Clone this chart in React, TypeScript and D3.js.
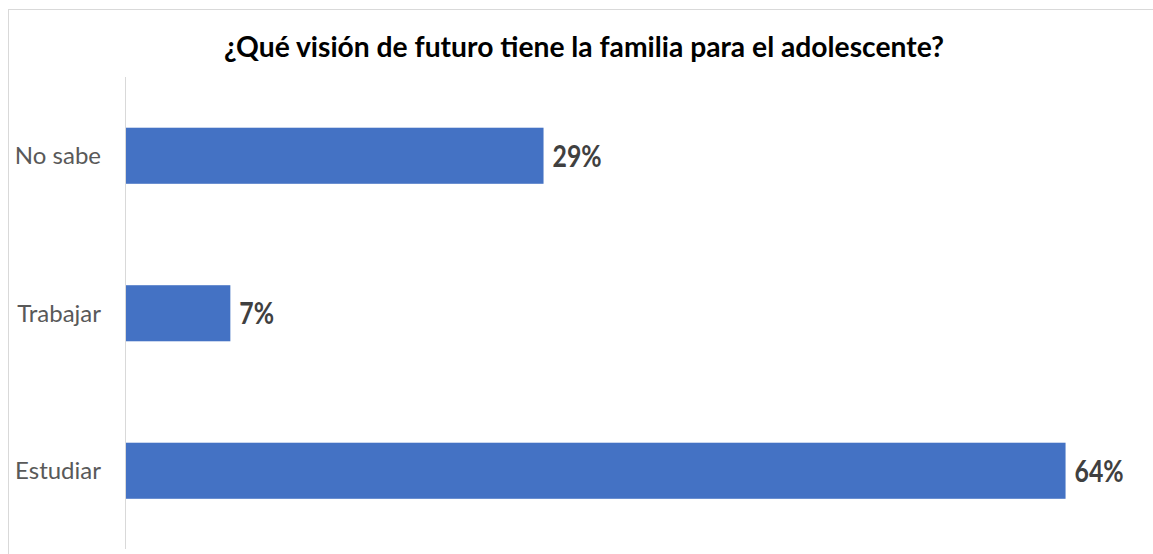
import React from "react";
import * as d3 from "d3";

const TITLE = "¿Qué visión de futuro tiene la familia para el adolescente?";
const categories = ["No sabe", "Trabajar", "Estudiar"];
const values = [0.2857, 0.0714, 0.6429];
const xDomainMax = 0.7;

const W = 1153;
const H = 554;
const FONT = "Lato, 'Open Sans', 'DejaVu Sans', sans-serif";

export default function App() {
  const x = d3.scaleLinear().domain([0, xDomainMax]).range([126, 1149]);
  const y = d3
    .scaleBand<string>()
    .domain(categories)
    .range([77, 549.5])
    .paddingInner(0.644)
    .paddingOuter(0.322);
  const fmt = d3.format(".0%");
  const sx = 0.8;

  return (
    <svg
      width={W}
      height={H}
      style={{ position: "absolute", left: 0, top: 0, background: "#fff" }}
    >
      <rect x={8.5} y={9.5} width={W + 10} height={H + 10} fill="#fff" stroke="#d9d9d9" strokeWidth={1} />
      <text
        x={584}
        y={57}
        textAnchor="middle"
        fontFamily={FONT}
        fontWeight="bold"
        fontSize={28}
        fill="#000"
        textLength={720}
        lengthAdjust="spacingAndGlyphs"
      >
        {TITLE}
      </text>
      <line x1={125.5} x2={125.5} y1={77} y2={549} stroke="#d9d9d9" strokeWidth={1} />
      {categories.map((c, i) => {
        const y0 = y(c)!;
        const bw = y.bandwidth();
        const lx = x(values[i]) + 9;
        return (
          <g key={c}>
            <rect x={x(0)} y={y0} width={x(values[i]) - x(0)} height={bw} fill="#4472c4" />
            <text
              x={101}
              y={y0 + bw / 2}
              dy="0.35em"
              textAnchor="end"
              fontFamily={FONT}
              fontSize={24}
              fill="#595959"
            >
              {c}
            </text>
            <g transform={`translate(${lx},${y0 + bw / 2}) scale(${sx},1)`}>
              <text
                x={0}
                y={0}
                dy="0.36em"
                fontFamily={FONT}
                fontWeight="bold"
                fontSize={31}
                fill="#404040"
              >
                {fmt(values[i])}
              </text>
            </g>
          </g>
        );
      })}
    </svg>
  );
}
